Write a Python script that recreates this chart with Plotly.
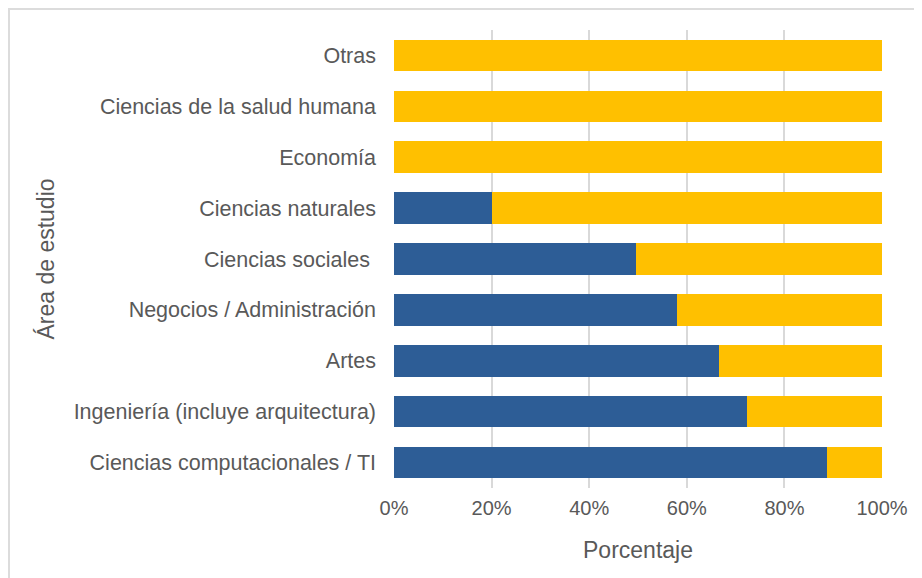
import plotly.graph_objects as go

# ── Data ───────────────────────────────────────────────────────────
AREAS = [
    "Ciencias computacionales / TI",
    "Ingeniería (incluye arquitectura)",
    "Artes",
    "Negocios / Administración",
    "Ciencias sociales ",
    "Ciencias naturales",
    "Economía",
    "Ciencias de la salud humana",
    "Otras",
]
SI_PCT = [88.7, 72.4, 66.5, 58.0, 49.6, 20.0, 0.0, 0.0, 0.0]
NO_PCT = [100 - v for v in SI_PCT]
X_TICKS = [0, 20, 40, 60, 80, 100]
X_TICK_TEXT = ["0%", "20%", "40%", "60%", "80%", "100%"]

# ── Layout constants (pixels; the page body adds an 8px offset) ────
W, H = 914, 570
L, R, T, B = 386, 40, 22, 90
PW, PH = W - L - R, H - T - B

BLUE = "#2D5D96"
YELLOW = "#FFC000"
TEXT = "#595959"
GRID = "#D9D9D9"
FONT = "Liberation Sans, Arial, sans-serif"

fig = go.Figure()
fig.add_trace(go.Bar(y=AREAS, x=SI_PCT, orientation="h", name="Sí",
                     marker=dict(color=BLUE, line=dict(width=0))))
fig.add_trace(go.Bar(y=AREAS, x=NO_PCT, orientation="h", name="No",
                     marker=dict(color=YELLOW, line=dict(width=0))))


def px_x(p):
    return (p - L) / PW


def px_y(p):
    return (T + PH - p) / PH


# light outer frame of the chart area (left and top edges visible)
fig.add_shape(type="rect", xref="paper", yref="paper",
              x0=px_x(1), x1=px_x(W + 20), y0=px_y(H + 20), y1=px_y(1),
              line=dict(color="#DCDCDC", width=2), layer="below")

fig.update_layout(
    width=W, height=H,
    barmode="stack", bargap=0.38,
    showlegend=False,
    margin=dict(l=L, r=R, t=T, b=B, autoexpand=False),
    plot_bgcolor="white", paper_bgcolor="white",
    font=dict(family=FONT, color=TEXT, size=20),
    xaxis=dict(
        range=[0, 100], tickvals=X_TICKS, ticktext=X_TICK_TEXT,
        showgrid=True, gridcolor=GRID, gridwidth=1.5,
        zeroline=False, showline=False, ticks="",
        ticklabelstandoff=6,
        tickfont=dict(size=20, color=TEXT),
        title=dict(text="Porcentaje", font=dict(size=23, color=TEXT), standoff=23),
        automargin=False,
    ),
    yaxis=dict(
        showgrid=False, zeroline=False, showline=False, ticks="",
        ticklabelstandoff=17,
        tickfont=dict(size=21.5, color=TEXT),
        title=dict(text="Área de estudio", font=dict(size=23, color=TEXT), standoff=12),
        automargin=False,
    ),
)

fig.write_html("out.html")
